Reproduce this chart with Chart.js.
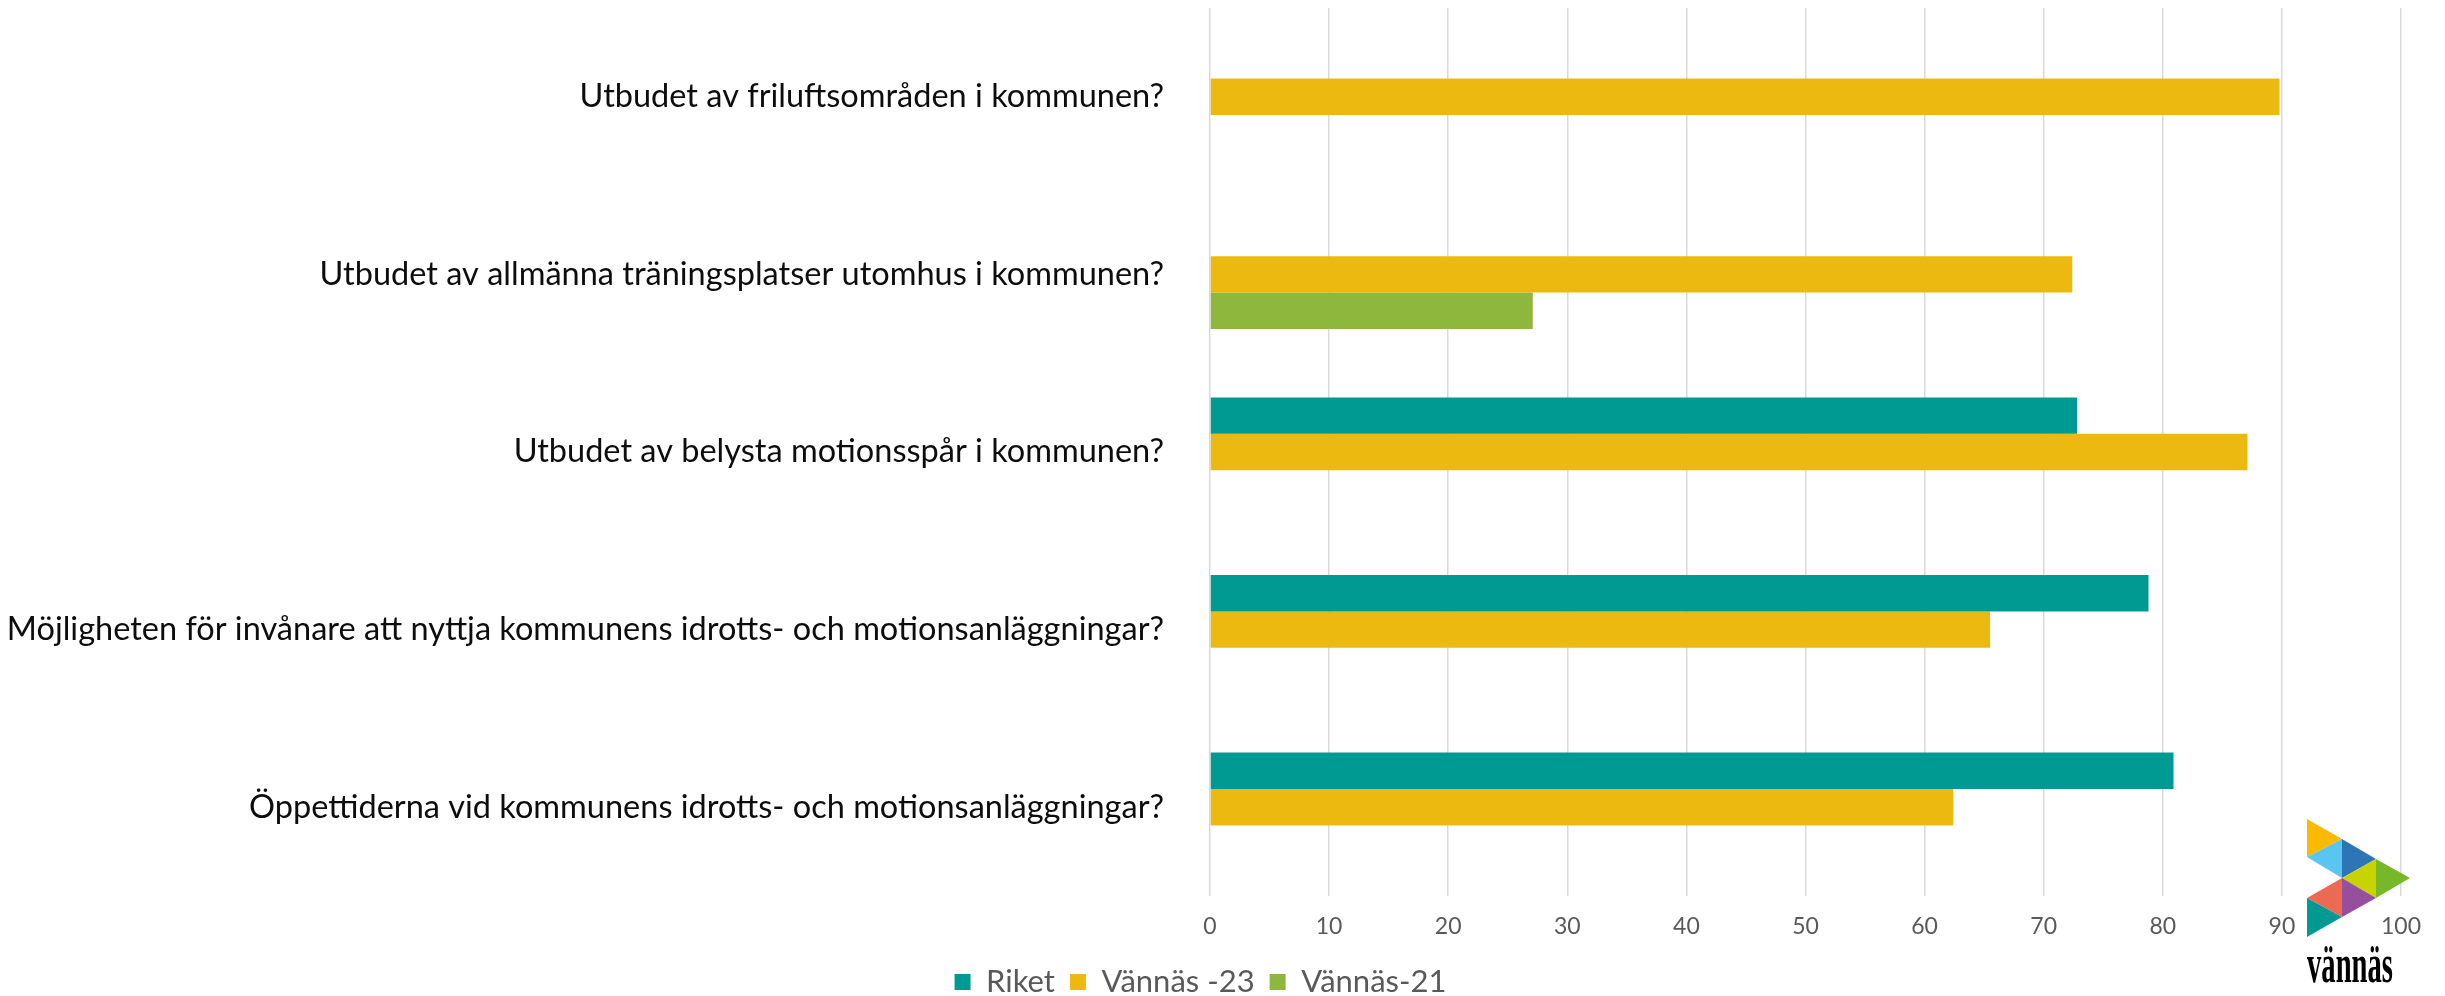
<!DOCTYPE html>
<html lang="sv">
<head>
<meta charset="utf-8">
<title>Vännäs - idrott och motion</title>
<script src="https://cdn.jsdelivr.net/npm/chart.js@4.4.1/dist/chart.umd.min.js"></script>
<style>
    html, body { margin: 0; padding: 0; background: #fff; }
    #wrap { position: relative; width: 2445px; height: 996px; }
    #logo { position: absolute; left: 0; top: 0; pointer-events: none; }
</style>
</head>
<body>
<div id="wrap">
    <canvas id="chart"></canvas>
    <svg id="logo" width="2445" height="996" viewBox="0 0 2445 996">
        <polygon points="2307,819 2342,839 2307,857" fill="#fbb900"/>
        <polygon points="2307,857 2342,839 2342,878" fill="#5bc5f2"/>
        <polygon points="2342,839 2376,859 2342,878" fill="#2e75b6"/>
        <polygon points="2342,878 2376,859 2376,898" fill="#c8d400"/>
        <polygon points="2376,859 2410,878 2376,898" fill="#76b82a"/>
        <polygon points="2307,898 2342,878 2342,917" fill="#ec6a53"/>
        <polygon points="2342,878 2376,898 2342,917" fill="#954f9c"/>
        <polygon points="2307,898 2342,917 2307,937" fill="#009a93"/>
        <text x="2307" y="982" font-family="Liberation Serif" font-weight="bold" font-size="54"
              textLength="86" lengthAdjust="spacingAndGlyphs" fill="#000">vännäs</text>
    </svg>
</div>
<script>
var categories = [
    'Utbudet av friluftsområden i kommunen?',
    'Utbudet av allmänna träningsplatser utomhus i kommunen?',
    'Utbudet av belysta motionsspår i kommunen?',
    'Möjligheten för invånare att nyttja kommunens idrotts- och motionsanläggningar?',
    'Öppettiderna vid kommunens idrotts- och motionsanläggningar?'
];
var riket = [null, null, 72.8, 78.8, 80.9];
var vannas23 = [89.8, 72.4, 87.1, 65.5, 62.4];
var vannas21 = [null, 27.1, null, null, null];

var labelFont = 'Lato';

new Chart(document.getElementById('chart'), {
    type: 'bar',
    data: {
        labels: categories,
        datasets: [{
            label: 'Riket',
            data: riket,
            backgroundColor: '#009a93'
        }, {
            label: 'Vännäs -23',
            data: vannas23,
            backgroundColor: '#ebb90f'
        }, {
            label: 'Vännäs-21',
            data: vannas21,
            backgroundColor: '#8db73d'
        }]
    },
    options: {
        indexAxis: 'y',
        responsive: true,
        maintainAspectRatio: false,
        animation: false,
        categoryPercentage: 0.615,
        barPercentage: 1.0,
        layout: {
            padding: { top: 8, left: 0, right: 44, bottom: -11.5 }
        },
        plugins: {
            tooltip: { enabled: false },
            legend: {
                position: 'bottom',
                labels: {
                    boxWidth: 16,
                    boxHeight: 16,
                    padding: 15,
                    color: '#595959',
                    font: { family: labelFont, size: 31 }
                }
            }
        },
        scales: {
            x: {
                min: 0,
                max: 100,
                ticks: {
                    stepSize: 10,
                    padding: 17,
                    color: '#595959',
                    font: { family: labelFont, size: 23 }
                },
                grid: {
                    color: '#d9d9d9',
                    lineWidth: 1.5,
                    drawTicks: false
                },
                border: { display: false },
                afterFit: function (scale) {
                    scale.height = 55.5;
                }
            },
            y: {
                ticks: {
                    padding: 38,
                    color: '#0d0d0d',
                    font: { family: labelFont, size: 32.5 }
                },
                grid: { display: false },
                border: { display: false },
                afterFit: function (scale) {
                    scale.width = 1210;
                    scale.paddingTop = 0;
                    scale.paddingBottom = 0;
                }
            }
        }
    }
});
</script>
</body>
</html>
